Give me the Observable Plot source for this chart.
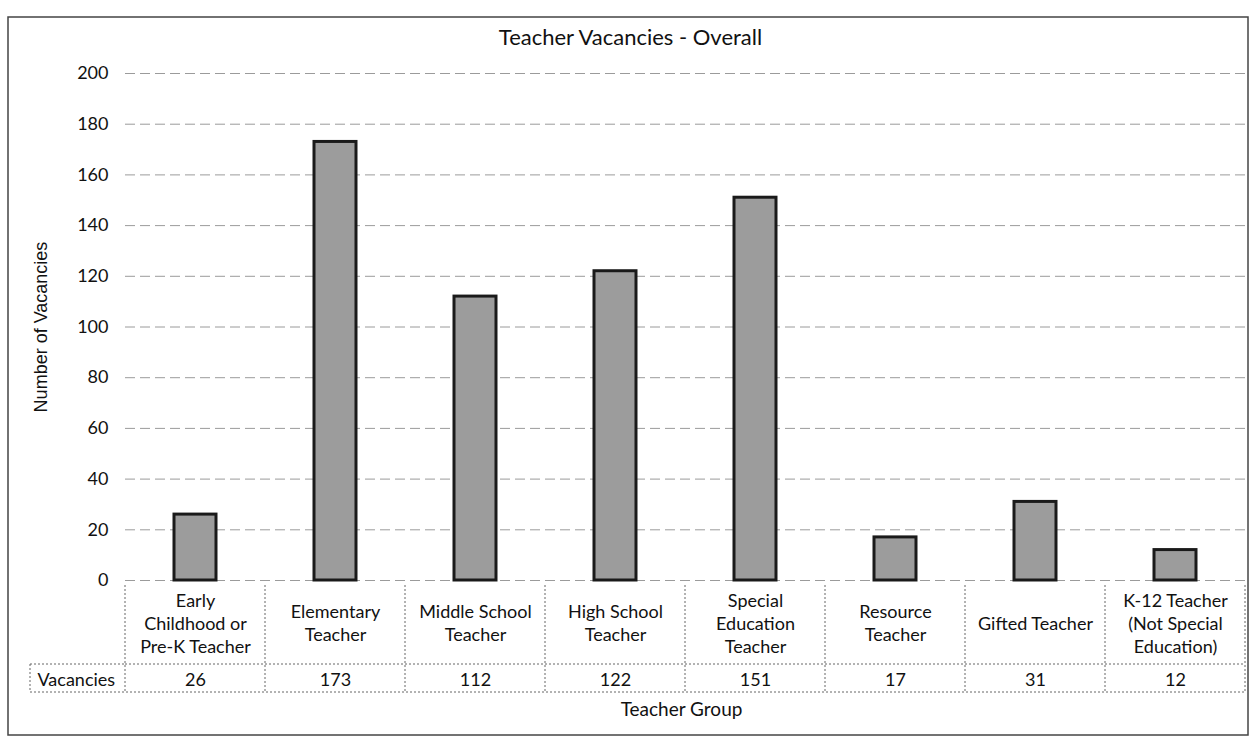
<!DOCTYPE html>
<html><head><meta charset="utf-8">
<script src="https://cdn.jsdelivr.net/npm/d3@7"></script>
<script src="https://cdn.jsdelivr.net/npm/@observablehq/plot@0.6"></script>
<style>body{margin:0;background:#fff} svg{display:block}</style>
</head><body><div id="chart"></div>
<script>
const title = "Teacher Vacancies - Overall";
const yLabel = "Number of Vacancies";
const xLabel = "Teacher Group";
const rowLabel = "Vacancies";
const categories = [
  "Early\nChildhood or\nPre-K Teacher",
  "Elementary\nTeacher",
  "Middle School\nTeacher",
  "High School\nTeacher",
  "Special\nEducation\nTeacher",
  "Resource\nTeacher",
  "Gifted Teacher",
  "K-12 Teacher\n(Not Special\nEducation)"
];
const vacancies = [26, 173, 112, 122, 151, 17, 31, 12];
const yTicks = [0, 20, 40, 60, 80, 100, 120, 140, 160, 180, 200];

const data = categories.map((c, i) => ({category: c, value: vacancies[i]}));
const font = "Lato, 'Open Sans', sans-serif";

const plot = Plot.plot({
  width: 1254,
  height: 740,
  marginLeft: 125,
  marginRight: 9,
  marginTop: 73,
  marginBottom: 160,
  style: {fontFamily: font, fontSize: "17px", color: "#111", background: "#fff"},
  x: {domain: categories, paddingInner: 0.7, paddingOuter: 0.35, axis: null},
  y: {domain: [0, 200], ticks: yTicks},
  marks: [
    Plot.gridY(yTicks, {stroke: "#8a8a8a", strokeOpacity: 0.85, strokeDasharray: "10,5", strokeWidth: 1}),
    Plot.axisY(yTicks, {tickSize: 0, tickPadding: 17, fontSize: 18, label: null}),
    Plot.text([yLabel], {text: d => d, frameAnchor: "left", textAnchor: "middle", dx: -84, rotate: -90, fontSize: 18, fontFamily: "'Liberation Sans', Arial, sans-serif"}),
    Plot.barY(data, {x: "category", y: "value", fill: "#9c9c9c", stroke: "#1a1a1a", strokeWidth: 3}),
    Plot.text(data, {x: "category", text: "category", frameAnchor: "bottom", dy: 42, lineHeight: 1.28, lineAnchor: "middle", fontSize: 18}),
    Plot.text(data, {x: "category", text: d => String(d.value), frameAnchor: "bottom", dy: 100, lineAnchor: "middle", fontSize: 18}),
    Plot.text([rowLabel], {text: d => d, frameAnchor: "bottom-left", dx: -88, dy: 100, lineAnchor: "middle", textAnchor: "start", fontSize: 18}),
    Plot.text([xLabel], {text: d => d, frameAnchor: "bottom", dx: -4, dy: 129, lineAnchor: "middle", fontSize: 19}),
    Plot.text([title], {text: d => d, frameAnchor: "top", dx: -55, dy: -36, lineAnchor: "middle", fontSize: 22})
  ]
});

// Data-table grid lines and outer border, placed with the plot's own scales
const sx = plot.scale("x");
const sy = plot.scale("y");
const step = sx.step, bw = sx.bandwidth;
const y0 = sy.apply(0);
const tTop = y0 + 5, tMid = y0 + 84, tBot = y0 + 112;
const bounds = categories.map(c => sx.apply(c) - (step - bw) / 2);
bounds.push(bounds[bounds.length - 1] + step);
const svg = d3.select(plot);
const g = svg.append("g").attr("stroke", "#666").attr("stroke-dasharray", "2,2").attr("fill", "none");
bounds.forEach(b => g.append("line").attr("x1", b).attr("x2", b).attr("y1", tTop).attr("y2", tBot));
g.append("line").attr("x1", bounds[0]).attr("x2", bounds[bounds.length - 1]).attr("y1", tMid).attr("y2", tMid);
g.append("line").attr("x1", 30).attr("x2", bounds[bounds.length - 1]).attr("y1", tBot).attr("y2", tBot);
g.append("line").attr("x1", 30).attr("x2", bounds[0]).attr("y1", tMid).attr("y2", tMid);
g.append("line").attr("x1", 30).attr("x2", 30).attr("y1", tMid).attr("y2", tBot);
svg.append("rect").attr("x", 8).attr("y", 17).attr("width", 1240).attr("height", 718)
  .attr("fill", "none").attr("stroke", "#444").attr("stroke-width", 1.5);

document.getElementById("chart").append(plot);
</script>
</body></html>
